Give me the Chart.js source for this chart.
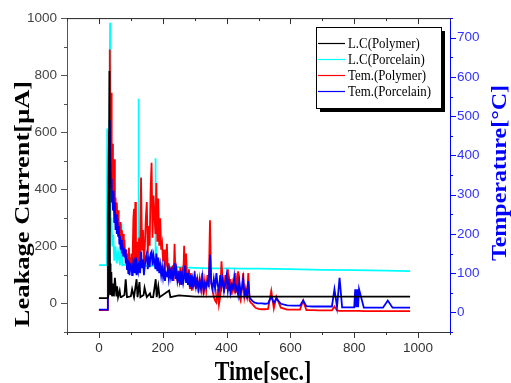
<!DOCTYPE html>
<html>
<head>
<meta charset="utf-8">
<title>Leakage current and temperature</title>
<script src="https://cdn.jsdelivr.net/npm/chart.js@4.4.1/dist/chart.umd.min.js"></script>
<style>
  html, body { margin: 0; padding: 0; background: #fff; }
  #wrap { width: 511px; height: 383px; }
</style>
</head>
<body>
<div id="wrap"><canvas id="chart" width="511" height="383"></canvas></div>
<script>
// values
const seriesNames = ['L.C(Polymer)', 'L.C(Porcelain)', 'Tem.(Polymer)', 'Tem.(Porcelain)'];
const seriesColors = ['#000000', '#00ffff', '#ff0000', '#0000ff'];
const timeLabels = [0, 200, 400, 600, 800, 1000];
const currentLabels = [0, 200, 400, 600, 800, 1000];
const tempLabels = [0, 100, 200, 300, 400, 500, 600, 700];

// time [sec] shared by both temperature records
const tempTime = [
    0, 26, 28, 30, 32, 34, 36, 38, 40, 42,
    44, 46, 48, 50, 52, 54, 56, 58, 60, 62,
    64, 66, 68, 70, 72, 74, 76, 78, 80, 82,
    84, 86, 88, 90, 92, 94, 96, 98, 100, 102,
    104, 106, 108, 110, 112, 114, 116, 118, 120, 123,
    126, 129, 132, 135, 138, 141, 144, 147, 150, 153,
    156, 159, 162, 165, 168, 171, 174, 177, 180, 183,
    186, 189, 192, 195, 198, 201, 204, 207, 210, 213,
    216, 219, 222, 225, 228, 231, 234, 237, 240, 243,
    246, 249, 252, 255, 258, 261, 264, 267, 270, 273,
    276, 279, 282, 285, 288, 291, 294, 297, 300, 304,
    308, 312, 316, 320, 324, 328, 332, 336, 340, 344,
    348, 352, 356, 360, 364, 368, 372, 376, 380, 384,
    388, 392, 396, 400, 404, 408, 412, 416, 420, 424,
    428, 432, 436, 440, 444, 448, 452, 456, 460, 464,
    468, 472, 476, 480, 484, 488, 492, 496, 500, 510,
    520, 530, 540, 548, 556, 570, 590, 610, 630, 640,
    650, 670, 690, 710, 730, 738, 746, 754, 762, 780,
    800, 803, 806, 809, 812, 815, 830, 850, 870, 890,
    905, 920, 940, 960, 975
];
// Tem.(Polymer) [C]
const tempPolymer = [
    6, 6, 250, 380, 460, 670, 400, 560, 330, 430,
    300, 260, 390, 250, 293, 240, 280, 238, 260, 200,
    220, 180, 230, 175, 210, 170, 200, 165, 185, 150,
    140, 160, 115, 150, 125, 165, 105, 140, 120, 150,
    110, 160, 240, 264, 130, 281, 150, 120, 180, 130,
    190, 120, 344, 160, 210, 125, 170, 240, 281, 150,
    220, 170, 313, 381, 190, 298, 250, 200, 330, 180,
    290, 170, 240, 160, 175, 130, 160, 110, 125, 175,
    100, 125, 90, 115, 85, 120, 80, 175, 95, 110,
    80, 105, 75, 115, 70, 100, 80, 170, 90, 150,
    95, 70, 110, 60, 100, 55, 90, 65, 105, 60,
    90, 50, 85, 60, 100, 45, 80, 55, 95, 65,
    235, 75, 55, 40, 30, 25, 60, 20, 40, 130,
    80, 50, 95, 60, 110, 55, 85, 45, 75, 60,
    100, 50, 105, 40, 30, 60, 100, 40, 60, 35,
    100, 30, 25, 22, 18, 14, 11, 10, 9, 8,
    8, 9, 55, 10, 40, 12, 7, 7, 7, 30,
    6, 6, 5, 5, 5, 15, 5, 4, 4, 4,
    4, 4, 4, 4, 4, 4, 3, 3, 3, 3,
    3, 3, 3, 3, 3
];
// Tem.(Porcelain) [C]
const tempPorcelain = [
    7, 7, 150, 260, 320, 490, 400, 340, 280, 310,
    260, 310, 230, 280, 210, 250, 200, 240, 195, 220,
    175, 195, 160, 185, 150, 175, 145, 165, 140, 160,
    125, 145, 110, 135, 100, 130, 95, 125, 105, 120,
    95, 115, 130, 125, 100, 140, 110, 95, 120, 105,
    130, 100, 155, 115, 135, 95, 120, 140, 150, 110,
    135, 115, 150, 155, 120, 145, 130, 110, 150, 105,
    140, 100, 120, 95, 115, 90, 110, 80, 100, 95,
    110, 85, 105, 90, 115, 80, 100, 125, 85, 105,
    80, 95, 80, 105, 70, 95, 75, 90, 120, 75,
    100, 70, 90, 65, 95, 60, 85, 70, 90, 65,
    85, 60, 80, 60, 90, 55, 75, 65, 80, 70,
    147, 75, 60, 85, 60, 100, 70, 55, 95, 65,
    85, 55, 75, 95, 55, 80, 50, 70, 60, 90,
    55, 65, 45, 80, 50, 60, 85, 45, 55, 40,
    80, 38, 34, 30, 27, 25, 24, 23, 23, 23,
    22, 23, 40, 24, 35, 22, 18, 17, 17, 30,
    16, 15, 15, 15, 15, 59, 14, 88, 13, 13,
    13, 59, 13, 59, 13, 59, 12, 12, 12, 12,
    30, 12, 12, 12, 12
];

// L.C(Polymer) [uA]
const lcPolymerTime = [
    0, 28, 30, 33, 35, 36, 37, 39, 41, 45,
    47, 50, 55, 57, 60, 65, 68, 70, 80, 84,
    88, 100, 104, 110, 118, 121, 127, 130, 140, 143,
    150, 160, 163, 170, 178, 181, 186, 190, 220, 224,
    250, 300, 400, 500, 600, 700, 800, 900, 975
];
const lcPolymer = [
    19, 19, 30, 815, 40, 140, 30, 110, 25, 70,
    25, 90, 25, 60, 22, 45, 22, 22, 30, 85,
    22, 25, 50, 22, 85, 22, 75, 22, 30, 55,
    22, 35, 22, 22, 85, 22, 60, 22, 45, 22,
    28, 24, 24, 24, 24, 24, 24, 24, 24
];

// L.C(Porcelain) [uA]
const lcPorcelainTime = [
    0, 20, 25, 26, 27, 30, 32, 35, 36, 37,
    39, 42, 45, 48, 52, 56, 60, 66, 71, 73,
    80, 100, 120, 123, 124, 125, 150, 176, 177, 178,
    180, 182, 200, 250, 300, 350, 400, 450, 500, 600,
    700, 800, 900, 975
];
const lcPorcelain = [
    134, 134, 134, 613, 140, 200, 450, 984, 400, 250,
    300, 200, 240, 150, 200, 140, 180, 134, 278, 134,
    136, 134, 133, 133, 717, 133, 132, 132, 509, 132,
    200, 131, 130, 127, 125, 123, 123, 122, 122, 120,
    118, 117, 115, 113
];

const pairs = (xs, ys) => xs.map((x, i) => ({ x: x, y: ys[i] }));

const squeeze = 0.83; // the original figure is narrower than its fonts
const tickFont = { family: "'Liberation Sans Narrow', 'Liberation Sans', Arial, sans-serif", size: 13.5 };

// frame top line + tick marks (long on labelled values, short in between)
const frameTicks = {
    id: 'frameTicks',
    afterDraw(chart) {
        const { ctx, chartArea: a, scales } = chart;
        ctx.save();
        ctx.lineWidth = 1;

        ctx.strokeStyle = '#222';
        ctx.beginPath();
        ctx.moveTo(a.left, a.top + 0.5);
        ctx.lineTo(a.right, a.top + 0.5);
        ctx.stroke();

        scales.x.ticks.forEach(t => {
            const px = Math.round(scales.x.getPixelForValue(t.value)) + 0.5;
            const len = timeLabels.includes(t.value) ? 6 : 3;
            ctx.strokeStyle = '#333';
            ctx.beginPath();
            ctx.moveTo(px, a.bottom);
            ctx.lineTo(px, a.bottom + len);
            ctx.moveTo(px, a.top);
            ctx.lineTo(px, a.top + len);
            ctx.stroke();
        });
        scales.y.ticks.forEach(t => {
            const py = Math.round(scales.y.getPixelForValue(t.value)) + 0.5;
            const len = currentLabels.includes(t.value) ? 6 : 3;
            ctx.strokeStyle = '#555';
            ctx.beginPath();
            ctx.moveTo(a.left - len, py);
            ctx.lineTo(a.left, py);
            ctx.stroke();
        });
        scales.y1.ticks.forEach(t => {
            const py = Math.round(scales.y1.getPixelForValue(t.value)) + 0.5;
            const len = tempLabels.includes(t.value) ? 6 : 3;
            ctx.strokeStyle = '#0000ff';
            ctx.beginPath();
            ctx.moveTo(a.right, py);
            ctx.lineTo(a.right + len, py);
            ctx.stroke();
        });
        ctx.restore();
    }
};

// boxed legend with a drop shadow, top right of the plot
const legendBox = {
    id: 'legendBox',
    afterDraw(chart) {
        const ctx = chart.ctx;
        const x = 316, y = 27, w = 125, h = 81;
        ctx.save();
        ctx.fillStyle = '#000';
        ctx.fillRect(x + 4, y + 4, w, h);
        ctx.fillStyle = '#fff';
        ctx.fillRect(x, y, w, h);
        ctx.strokeStyle = '#000';
        ctx.lineWidth = 1;
        ctx.strokeRect(x + 0.5, y + 0.5, w, h);

        ctx.font = '15.5px "Liberation Serif", serif';
        ctx.textBaseline = 'middle';
        ctx.textAlign = 'left';
        seriesNames.forEach((name, i) => {
            const ry = Math.round(43 + i * 15.9) + 0.5;
            ctx.strokeStyle = seriesColors[i];
            ctx.lineWidth = 1.2;
            ctx.beginPath();
            ctx.moveTo(x + 2, ry);
            ctx.lineTo(x + 29, ry);
            ctx.stroke();
            ctx.save();
            ctx.translate(x + 32, ry);
            ctx.scale(squeeze, 1);
            ctx.fillStyle = '#000';
            ctx.fillText(name, 0, 0);
            ctx.restore();
        });
        ctx.restore();
    }
};

// axis titles, squeezed like the rest of the original figure
const axisTitles = {
    id: 'axisTitles',
    afterDraw(chart) {
        const ctx = chart.ctx;
        ctx.save();
        ctx.textAlign = 'center';
        ctx.textBaseline = 'alphabetic';

        ctx.font = 'bold 26.5px "Liberation Serif", serif';
        ctx.fillStyle = '#000';
        ctx.save();
        ctx.translate(28.5, 204);
        ctx.scale(squeeze, 1);
        ctx.rotate(-Math.PI / 2);
        ctx.fillText('Leakage Current[\u03BCA]', 0, 0);
        ctx.restore();

        ctx.save();
        ctx.translate(263, 380);
        ctx.scale(squeeze, 1);
        ctx.fillText('Time[sec.]', 0, 0);
        ctx.restore();

        ctx.font = 'bold 24px "Liberation Serif", serif';
        ctx.fillStyle = '#0000ff';
        ctx.save();
        ctx.translate(506, 173);
        ctx.scale(squeeze, 1);
        ctx.rotate(-Math.PI / 2);
        ctx.fillText('Temperature[\u00B0C]', 0, 0);
        ctx.restore();

        ctx.restore();
    }
};

new Chart(document.getElementById('chart'), {
    type: 'line',
    data: {
        datasets: [
            { label: seriesNames[0], data: pairs(lcPolymerTime, lcPolymer), yAxisID: 'y', borderColor: seriesColors[0], order: 0 },
            { label: seriesNames[1], data: pairs(lcPorcelainTime, lcPorcelain), yAxisID: 'y', borderColor: seriesColors[1], order: 3 },
            { label: seriesNames[2], data: pairs(tempTime, tempPolymer), yAxisID: 'y1', borderColor: seriesColors[2], order: 2 },
            { label: seriesNames[3], data: pairs(tempTime, tempPorcelain), yAxisID: 'y1', borderColor: seriesColors[3], order: 1 }
        ]
    },
    options: {
        responsive: false,
        animation: false,
        layout: { padding: { top: 15, left: 0, right: 0, bottom: 0 } },
        elements: {
            point: { radius: 0 },
            line: { borderWidth: 1.8, tension: 0, fill: false }
        },
        plugins: {
            legend: { display: false },
            tooltip: { enabled: false }
        },
        scales: {
            x: {
                type: 'linear',
                position: 'bottom',
                min: -100,
                max: 1100,
                ticks: {
                    stepSize: 100,
                    autoSkip: false,
                    maxRotation: 0,
                    padding: 8,
                    color: '#333',
                    font: tickFont,
                    callback: v => timeLabels.includes(v) ? String(v) : ''
                },
                grid: { display: false, drawTicks: false },
                border: { display: true, color: '#333', width: 1 },
                afterFit: s => { s.height = 51; }
            },
            y: {
                type: 'linear',
                position: 'left',
                min: -100,
                max: 1000,
                ticks: {
                    stepSize: 100,
                    autoSkip: false,
                    padding: 10,
                    color: '#444',
                    font: tickFont,
                    callback: v => currentLabels.includes(v) ? String(v) : ''
                },
                grid: { display: false, drawTicks: false },
                border: { display: true, color: '#555', width: 1 },
                afterFit: s => { s.width = 67; }
            },
            y1: {
                type: 'linear',
                position: 'right',
                min: -50,
                max: 750,
                ticks: {
                    stepSize: 50,
                    autoSkip: false,
                    padding: 7,
                    color: '#3333ff',
                    font: tickFont,
                    callback: v => tempLabels.includes(v) ? String(v) : ''
                },
                grid: { display: false, drawTicks: false },
                border: { display: true, color: '#0000ff', width: 1 },
                afterFit: s => { s.width = 61; }
            }
        }
    },
    plugins: [frameTicks, legendBox, axisTitles]
});
</script>
</body>
</html>
